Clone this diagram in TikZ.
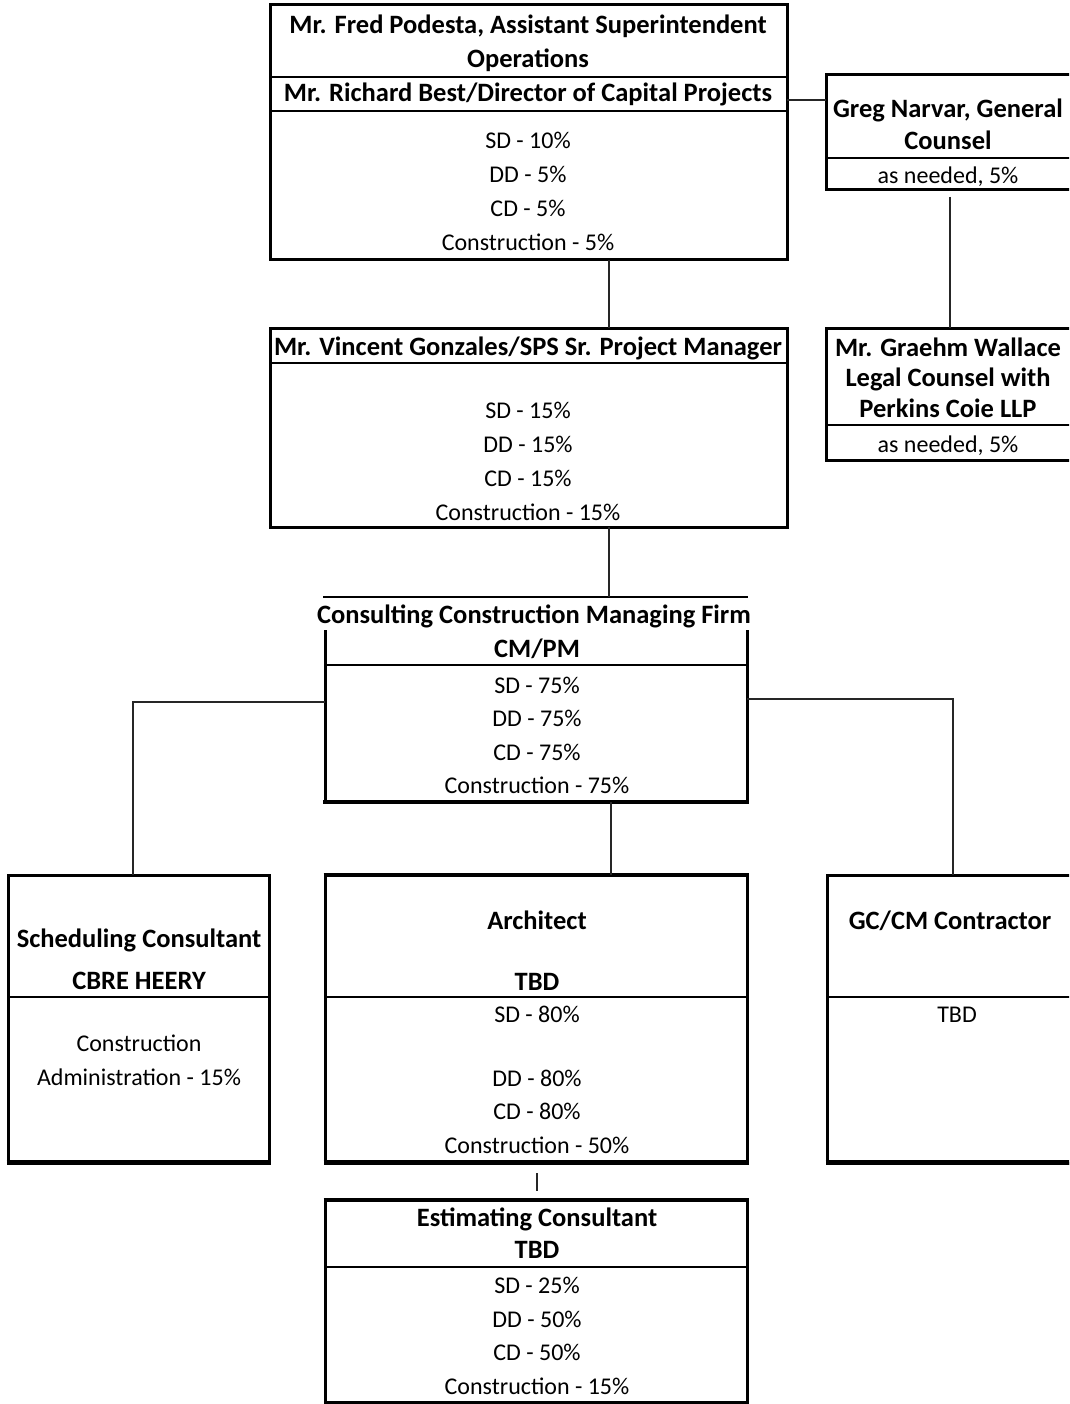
\documentclass[tikz,border=0pt]{standalone}
\usepackage{fontspec}
\setmainfont{Carlito}
\begin{document}
\begin{tikzpicture}[x=1pt,y=-1pt,
  box/.style={draw=black,line width=3pt,anchor=north west,inner sep=0pt,outer sep=0pt},
  frame/.style={inner sep=0pt,outer sep=0pt,anchor=north west},
  sep/.style={draw=black,line width=2.8pt},
  thick bottom/.style={draw=black,line width=5pt},
  conn/.style={draw=black!85,line width=1.1pt},
  bt/.style={font=\fontsize{26.5}{30}\selectfont\bfseries,anchor=base,inner sep=0pt},
  nt/.style={font=\fontsize{24}{28}\selectfont,anchor=base,inner sep=0pt}]
\useasboundingbox (0,0) rectangle (1069,1404);
\clip (0,0) rectangle (1069,1404);

% ---- box 1
\node[box,minimum width=517pt,minimum height=255pt] (b1) at (270,5) {};
\draw[sep] (270,77) -- (787,77);
\draw[sep] (270,111) -- (787,111);
\node[bt] (b1t1) at (528,34) {Mr. Fred Podesta, Assistant Superintendent};
\node[bt] (b1t2) at (528,68) {Operations};
\node[bt] (b1t3) at (528,102) {Mr. Richard Best/Director of Capital Projects};
\node[nt] (b1l1) at (528,149) {SD - 10\%};
\node[nt] (b1l2) at (528,183) {DD - 5\%};
\node[nt] (b1l3) at (528,217) {CD - 5\%};
\node[nt] (b1l4) at (528,251) {Construction - 5\%};

% ---- Greg
\node[box,minimum width=260pt,minimum height=115pt] (greg) at (826,75) {};
\draw[sep] (826,158) -- (1090,158);
\node[bt] (g1) at (948,118) {Greg Narvar, General};
\node[bt] (g2) at (948,150) {Counsel};
\node[nt] (g3) at (948,184) {as needed, 5\%};

% ---- Graehm
\node[box,minimum width=260pt,minimum height=132pt] (graehm) at (826,328) {};
\draw[sep] (826,425) -- (1090,425);
\node[bt] (w1) at (948,356) {Mr. Graehm Wallace};
\node[bt] (w2) at (948,386) {Legal Counsel with};
\node[bt] (w3) at (948,417) {Perkins Coie LLP};
\node[nt] (w4) at (948,452) {as needed, 5\%};

% ---- box 2
\node[box,minimum width=517pt,minimum height=199pt] (b2) at (270,328) {};
\draw[sep] (270,363) -- (787,363);
\node[bt] (b2t) at (528,355) {Mr. Vincent Gonzales/SPS Sr. Project Manager};
\node[nt] (b2l1) at (528,418) {SD - 15\%};
\node[nt] (b2l2) at (528,452) {DD - 15\%};
\node[nt] (b2l3) at (528,486) {CD - 15\%};
\node[nt] (b2l4) at (528,520) {Construction - 15\%};

% ---- CM firm
\node[frame,minimum width=422pt,minimum height=205pt] (cm) at (325,597) {};
\draw[sep] (323,597) -- (748,597);
\draw[black,line width=3pt] (325,630) -- (325,802) -- (747,802) -- (747,630);
\draw[black,line width=4pt] (323,802) -- (749,802);
\draw[sep] (325,665) -- (747,665);
\node[bt] (cmt1) at (534,623) {Consulting Construction Managing Firm};
\node[bt] (cmt2) at (537,657) {CM/PM};
\node[nt] (cml1) at (537,693) {SD - 75\%};
\node[nt] (cml2) at (537,726) {DD - 75\%};
\node[nt] (cml3) at (537,760) {CD - 75\%};
\node[nt] (cml4) at (537,793) {Construction - 75\%};

% ---- Scheduling
\node[box,minimum width=261pt,minimum height=288pt] (sch) at (8,875) {};
\draw[sep] (8,997) -- (269,997);
\draw[thick bottom] (6.5,1162) -- (270.5,1162);
\node[bt] (s1) at (139,947) {Scheduling Consultant};
\node[bt] (s2) at (139,989) {CBRE HEERY};
\node[nt] (s3) at (139,1051) {Construction};
\node[nt] (s4) at (139,1085) {Administration - 15\%};

% ---- Architect
\node[box,minimum width=422pt,minimum height=288pt] (arch) at (325,875) {};
\draw[black,line width=4.4pt] (323.5,875) -- (748.5,875);
\draw[sep] (325,997) -- (747,997);
\draw[thick bottom] (323.5,1162) -- (748.5,1162);
\node[bt] (a1) at (537,929) {Architect};
\node[bt] (a2) at (537,990) {TBD};
\node[nt] (a3) at (537,1022) {SD - 80\%};
\node[nt] (a4) at (537,1086) {DD - 80\%};
\node[nt] (a5) at (537,1119) {CD - 80\%};
\node[nt] (a6) at (537,1153) {Construction - 50\%};

% ---- GC
\node[box,minimum width=260pt,minimum height=288pt] (gc) at (827,875) {};
\draw[sep] (827,997) -- (1090,997);
\draw[thick bottom] (825.5,1162) -- (1090,1162);
\node[bt] (c1) at (950,929) {GC/CM Contractor};
\node[nt] (c2) at (957,1022) {TBD};

% ---- Estimating
\node[box,minimum width=422pt,minimum height=202pt] (est) at (325,1200) {};
\draw[black,line width=4.4pt] (323.5,1200) -- (748.5,1200);
\draw[sep] (325,1267) -- (747,1267);
\node[bt] (e1) at (537,1226) {Estimating Consultant};
\node[bt] (e2) at (537,1258) {TBD};
\node[nt] (e3) at (537,1293) {SD - 25\%};
\node[nt] (e4) at (537,1327) {DD - 50\%};
\node[nt] (e5) at (537,1360) {CD - 50\%};
\node[nt] (e6) at (537,1394) {Construction - 15\%};

% ---- connector coordinates
\coordinate (k1) at (609,0);
\coordinate (k2) at (950,0);
\coordinate (k3) at (100,100);
\coordinate (kl) at (133,702);
\coordinate (kr) at (953,699);
\coordinate (ka) at (611,0);
\coordinate (ke) at (537,1173);

% ---- connectors
\draw[conn] (b1.south -| k1) -- (b2.north -| k1);
\draw[conn] (b1.east |- k3) -- (greg.west |- k3);
\draw[conn] ([yshift=-7pt]greg.south -| k2) -- (graehm.north -| k2);
\draw[conn] (b2.south -| k1) -- (cm.north -| k1);
\draw[conn] (cm.west |- kl) -- (kl) -- (sch.north -| kl);
\draw[conn] (cm.east |- kr) -- (kr) -- (gc.north -| kr);
\draw[conn] (cm.south -| ka) -- (arch.north -| ka);
\draw[conn] (ke) -- ([yshift=9pt]est.north -| ke);
\end{tikzpicture}
\end{document}
